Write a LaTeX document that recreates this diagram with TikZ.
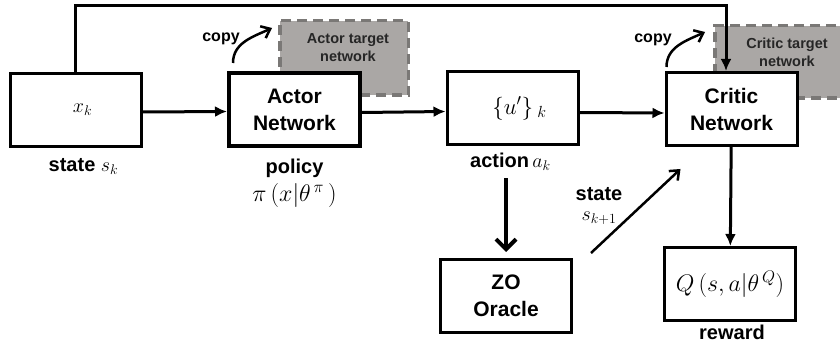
\RequirePackage{fix-cm}
\documentclass[tikz,border=0pt]{standalone}
\usepackage{fontspec}
\setmainfont{Liberation Sans}
\usetikzlibrary{arrows.meta,positioning}

\definecolor{tgtfill}{RGB}{170,167,165}
\definecolor{tgtline}{RGB}{122,120,118}

\tikzset{
  box/.style={draw, line width=3pt, fill=white, inner sep=0pt,
    minimum width=131pt, minimum height=73pt,
    font=\fontsize{20}{24}\selectfont},
  net/.style={box, align=center, font=\fontsize{21}{27}\selectfont\bfseries},
  tgt/.style={draw=tgtline, fill=tgtfill, line width=3.5pt,
    dash pattern=on 10pt off 6pt, minimum width=128.5pt, minimum height=73pt},
  tgttext/.style={align=center, inner sep=0pt, text=black!85,
    font=\fontsize{14.5}{18}\selectfont\bfseries},
  lbl/.style={inner sep=0pt, align=center, font=\fontsize{20}{28}\selectfont\bfseries},
  copylbl/.style={inner sep=0pt, font=\fontsize{16}{18}\selectfont\bfseries},
  arr/.style={line width=3pt, -{Latex[length=12pt,width=11pt]}},
  barb/.style={line width=2.5pt, -{Straight Barb[length=8pt,width=13pt]}}
}

\begin{document}
\begin{tikzpicture}[x=1pt,y=-1pt]
  \useasboundingbox (0,0) rectangle (840,347);
  \clip (0,0) rectangle (840,347);

  % target networks, behind
  \node [tgt, minimum height=74.5pt] (atgt) at (344,58) {};
  \node [tgt, minimum height=72.5pt] (ctgt) at (779,62) {};
  \node [tgttext] (atgtlbl) at (348,48) {Actor target\\network};
  \node [tgttext] (ctgtlbl) at (787,52) {Critic target\\network};

  % boxes
  \node [box] (state) at (75.5,110) {\hspace{14pt}$x_k$};
  \node [net, line width=4pt] (actor) at (294.5,109.5) {Actor\\Network};
  \node [box] (act) at (512.5,108.5) {\hspace{14pt}\fontsize{23}{26}\selectfont$\{u'\}_{\;k}$};
  \node [net] (critic) at (731.5,109) {Critic\\Network};
  \node [net] (oracle) at (506,296) {ZO\\Oracle};
  \node [box] (q) at (730,284)
    {\fontsize{24}{28}\selectfont$Q\,(s,a|\theta^{\,Q})$};

  % labels
  \node [lbl, below=10pt of state, xshift=8pt] (statelbl) {state $s_k$};
  \node [lbl, below=11pt of actor] (policy)
    {policy\\{\mdseries\fontsize{24}{28}\selectfont$\pi\,(x|\theta^{\,\pi}\,)$}};
  \node [lbl, below=6pt of act, xshift=-2pt] (actlbl) {action\,$a_k$};
  \node [lbl, below=3pt of q, xshift=2pt] (reward) {reward};
  \node [lbl, font=\fontsize{20}{20}\selectfont\bfseries] (nextlbl) at (599,206)
    {state\\$s_{k+1}$};
  \node [copylbl] (copy1) at (221,39) {copy};
  \node [copylbl] (copy2) at (653,40) {copy};

  % connectors
  \coordinate (top) at (726,5.5);
  \draw [arr] (state.north) |- (top) -- (top |- critic.north);
  \draw [arr] ([yshift=-2pt]state.east) -- ([yshift=-2pt]actor.west);
  \draw [arr] ([yshift=-3pt]actor.east) -- ([yshift=-3pt]act.west);
  \draw [arr] ([yshift=-4pt]act.east) -- ([yshift=-4pt]critic.west);
  \draw [arr] (critic) -- (q);
  \draw [line width=4pt, -{Straight Barb[length=10pt,width=20pt]}, shorten >=6pt]
    (actlbl.south -| oracle.north) ++(0,8) coordinate (a0) -- (a0 |- oracle.north);
  \draw [barb] ([xshift=18pt,yshift=5pt]oracle.north east)
    -- ([xshift=16pt,yshift=-22pt]critic.south west);
  \draw [barb] ([xshift=6pt,yshift=8pt]actor.north west)
    to [out=90,in=205] ([xshift=-6pt,yshift=-9pt]atgt.north west);
  \draw [barb] ([xshift=2pt,yshift=4pt]critic.north west)
    to [out=90,in=205] ([xshift=-8pt,yshift=-8pt]ctgt.north west);
\end{tikzpicture}
\end{document}
